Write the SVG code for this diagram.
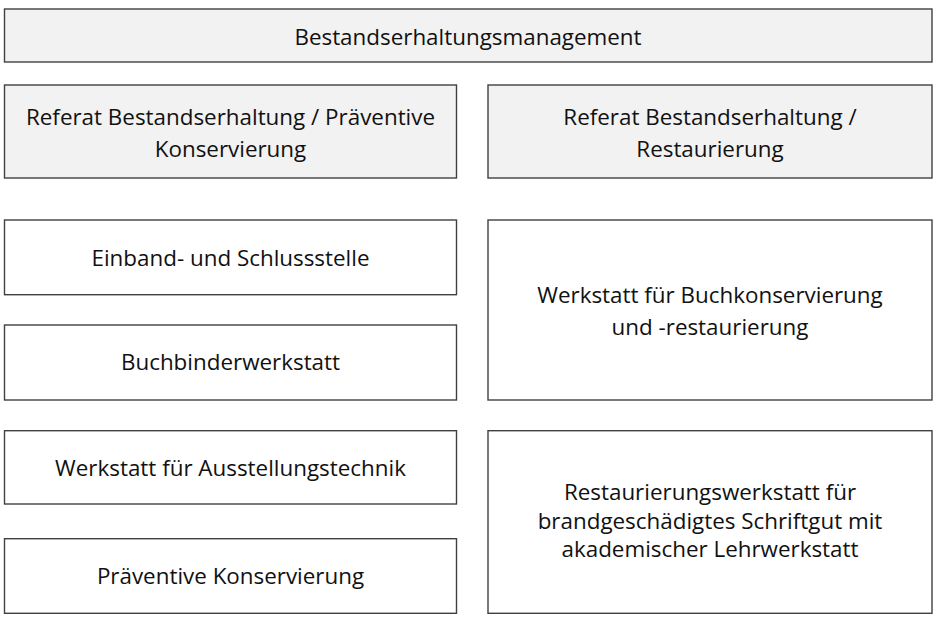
<svg xmlns="http://www.w3.org/2000/svg" width="936" height="622" viewBox="0 0 936 622">
<style>
.box{fill:#ffffff;stroke:#404040;stroke-width:1.4}
.grey{fill:#f2f2f2}
text{font-family:"Open Sans","Noto Sans","DejaVu Sans",sans-serif;font-size:22.4px;fill:#111111;text-anchor:middle}
</style>
<rect width="936" height="622" fill="#ffffff"/>
<g id="bestandserhaltungsmanagement">
<rect class="box grey" x="4.5" y="9" width="927.5" height="53"/>
<text x="468" y="45">Bestandserhaltungsmanagement</text>
</g>
<g id="referat-praeventive">
<rect class="box grey" x="4.5" y="85" width="452" height="93"/>
<text x="230.5" y="125">Referat Bestandserhaltung / Präventive</text>
<text x="230.5" y="157">Konservierung</text>
</g>
<g id="referat-restaurierung">
<rect class="box grey" x="488" y="85" width="444" height="93"/>
<text x="710" y="125">Referat Bestandserhaltung /</text>
<text x="710" y="157">Restaurierung</text>
</g>
<g id="einband">
<rect class="box" x="4.5" y="220" width="452" height="74.7"/>
<text x="230.5" y="266">Einband- und Schlussstelle</text>
</g>
<g id="buchbinderwerkstatt">
<rect class="box" x="4.5" y="325" width="452" height="75"/>
<text x="230.5" y="370">Buchbinderwerkstatt</text>
</g>
<g id="ausstellungstechnik">
<rect class="box" x="4.5" y="430.7" width="452" height="73.3"/>
<text x="230.5" y="476">Werkstatt für Ausstellungstechnik</text>
</g>
<g id="praeventive-konservierung">
<rect class="box" x="4.5" y="538.7" width="452" height="74.6"/>
<text x="230.5" y="584">Präventive Konservierung</text>
</g>
<g id="buchkonservierung">
<rect class="box" x="488" y="220" width="444" height="180"/>
<text x="710" y="302.5">Werkstatt für Buchkonservierung</text>
<text x="710" y="334.5">und -restaurierung</text>
</g>
<g id="restaurierungswerkstatt">
<rect class="box" x="488" y="430.7" width="444" height="182.6"/>
<text x="710" y="500">Restaurierungswerkstatt für</text>
<text x="710" y="528.5">brandgeschädigtes Schriftgut mit</text>
<text x="710" y="557">akademischer Lehrwerkstatt</text>
</g>
<g id="connectors"></g>
</svg>
